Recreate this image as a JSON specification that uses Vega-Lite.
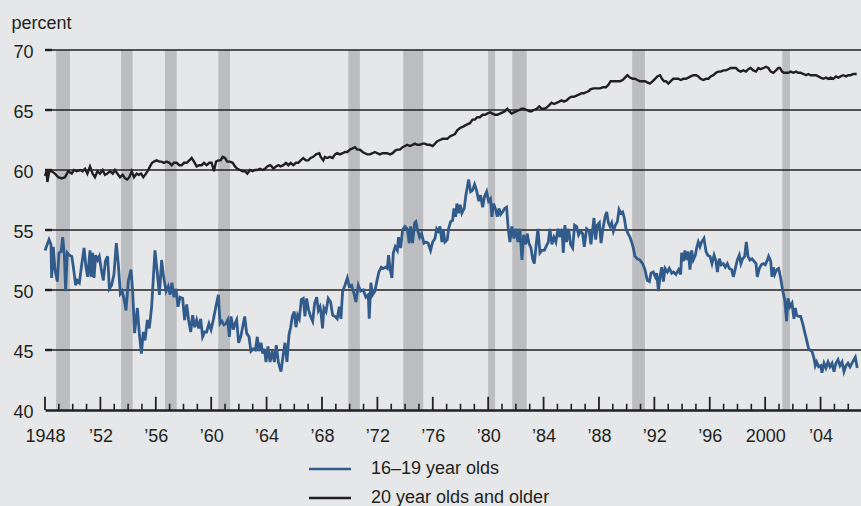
{
  "$schema": "https://vega.github.io/schema/vega-lite/v6.json",
  "width": 816,
  "height": 360,
  "autosize": {"type": "none"},
  "padding": {"left": 45, "top": 50, "right": 0, "bottom": 96},
  "background": "#e6e7e8",
  "config": {
    "view": {"stroke": null},
    "font": "Liberation Sans",
    "axis": {"labelFont": "Liberation Sans", "labelColor": "#231f20", "titleFont": "Liberation Sans", "titleColor": "#231f20"},
    "legend": {"labelFont": "Liberation Sans", "labelColor": "#231f20"}
  },
  "datasets": {
    "teen": [
      {"x":1948.00,"y":53.3},{"x":1948.29,"y":54.2},{"x":1948.43,"y":53.8},{"x":1948.48,"y":51.0},{"x":1948.60,"y":53.6},{"x":1948.72,"y":51.7},{"x":1948.89,"y":50.7},{"x":1949.01,"y":53.1},{"x":1949.16,"y":53.2},{"x":1949.28,"y":54.4},{"x":1949.40,"y":52.8},{"x":1949.49,"y":49.9},{"x":1949.61,"y":53.1},{"x":1949.76,"y":52.9},{"x":1949.93,"y":52.8},{"x":1950.05,"y":51.9},{"x":1950.21,"y":50.4},{"x":1950.33,"y":50.8},{"x":1950.48,"y":50.6},{"x":1950.65,"y":52.1},{"x":1950.82,"y":53.5},{"x":1950.96,"y":51.9},{"x":1951.08,"y":51.1},{"x":1951.25,"y":53.3},{"x":1951.32,"y":51.1},{"x":1951.44,"y":53.1},{"x":1951.54,"y":51.0},{"x":1951.66,"y":52.9},{"x":1951.80,"y":52.5},{"x":1951.92,"y":52.8},{"x":1952.04,"y":51.9},{"x":1952.21,"y":50.8},{"x":1952.36,"y":52.4},{"x":1952.52,"y":52.8},{"x":1952.65,"y":50.1},{"x":1952.81,"y":50.4},{"x":1952.98,"y":51.3},{"x":1953.15,"y":53.9},{"x":1953.29,"y":52.2},{"x":1953.44,"y":49.7},{"x":1953.56,"y":49.9},{"x":1953.70,"y":49.3},{"x":1953.85,"y":48.3},{"x":1954.02,"y":50.8},{"x":1954.21,"y":51.7},{"x":1954.33,"y":49.9},{"x":1954.47,"y":46.4},{"x":1954.67,"y":48.5},{"x":1954.81,"y":46.4},{"x":1954.96,"y":44.7},{"x":1955.10,"y":46.5},{"x":1955.22,"y":45.8},{"x":1955.39,"y":47.5},{"x":1955.53,"y":46.8},{"x":1955.70,"y":48.6},{"x":1955.94,"y":53.3},{"x":1956.11,"y":51.4},{"x":1956.26,"y":49.6},{"x":1956.42,"y":52.5},{"x":1956.54,"y":51.3},{"x":1956.74,"y":49.9},{"x":1956.90,"y":50.3},{"x":1957.03,"y":49.6},{"x":1957.17,"y":50.6},{"x":1957.31,"y":49.4},{"x":1957.46,"y":50.1},{"x":1957.60,"y":48.6},{"x":1957.75,"y":49.4},{"x":1957.94,"y":49.3},{"x":1958.08,"y":47.5},{"x":1958.23,"y":48.8},{"x":1958.37,"y":47.5},{"x":1958.52,"y":46.5},{"x":1958.66,"y":47.9},{"x":1958.81,"y":46.9},{"x":1958.95,"y":47.5},{"x":1959.10,"y":46.8},{"x":1959.24,"y":47.6},{"x":1959.38,"y":46.1},{"x":1959.53,"y":46.5},{"x":1959.67,"y":46.5},{"x":1959.84,"y":47.2},{"x":1959.99,"y":46.7},{"x":1960.15,"y":47.5},{"x":1960.32,"y":48.5},{"x":1960.52,"y":49.6},{"x":1960.64,"y":47.2},{"x":1960.78,"y":47.4},{"x":1960.92,"y":47.1},{"x":1961.07,"y":47.2},{"x":1961.19,"y":47.5},{"x":1961.31,"y":46.1},{"x":1961.43,"y":47.8},{"x":1961.60,"y":46.7},{"x":1961.72,"y":47.2},{"x":1961.84,"y":47.5},{"x":1961.98,"y":45.6},{"x":1962.13,"y":46.1},{"x":1962.27,"y":46.9},{"x":1962.42,"y":47.8},{"x":1962.56,"y":46.4},{"x":1962.73,"y":46.1},{"x":1962.87,"y":44.9},{"x":1963.04,"y":45.1},{"x":1963.19,"y":45.0},{"x":1963.33,"y":46.1},{"x":1963.45,"y":44.9},{"x":1963.60,"y":45.6},{"x":1963.72,"y":44.7},{"x":1963.84,"y":45.1},{"x":1963.96,"y":44.0},{"x":1964.10,"y":45.3},{"x":1964.25,"y":44.0},{"x":1964.41,"y":44.9},{"x":1964.56,"y":44.0},{"x":1964.70,"y":45.4},{"x":1964.85,"y":44.0},{"x":1965.04,"y":43.2},{"x":1965.21,"y":44.7},{"x":1965.33,"y":45.6},{"x":1965.47,"y":44.0},{"x":1965.62,"y":46.3},{"x":1965.74,"y":46.9},{"x":1965.86,"y":47.8},{"x":1966.00,"y":48.2},{"x":1966.12,"y":46.9},{"x":1966.24,"y":47.9},{"x":1966.36,"y":47.6},{"x":1966.51,"y":49.2},{"x":1966.65,"y":49.3},{"x":1966.77,"y":47.8},{"x":1966.89,"y":49.3},{"x":1967.04,"y":48.3},{"x":1967.18,"y":47.8},{"x":1967.33,"y":47.4},{"x":1967.47,"y":48.9},{"x":1967.62,"y":49.4},{"x":1967.74,"y":48.3},{"x":1967.86,"y":48.6},
      {"x":1967.92,"y":48.2},{"x":1968.04,"y":46.8},{"x":1968.14,"y":48.5},{"x":1968.29,"y":48.2},{"x":1968.45,"y":49.3},{"x":1968.62,"y":49.0},{"x":1968.77,"y":47.9},{"x":1968.94,"y":47.8},{"x":1969.10,"y":47.6},{"x":1969.25,"y":48.6},{"x":1969.37,"y":47.6},{"x":1969.49,"y":49.9},{"x":1969.66,"y":50.4},{"x":1969.83,"y":51.0},{"x":1969.97,"y":50.3},{"x":1970.14,"y":50.4},{"x":1970.31,"y":49.7},{"x":1970.45,"y":49.0},{"x":1970.62,"y":50.4},{"x":1970.79,"y":49.9},{"x":1970.98,"y":50.0},{"x":1971.17,"y":49.4},{"x":1971.34,"y":49.6},{"x":1971.41,"y":47.6},{"x":1971.53,"y":50.6},{"x":1971.65,"y":49.6},{"x":1971.82,"y":49.9},{"x":1971.94,"y":50.6},{"x":1972.11,"y":51.5},{"x":1972.28,"y":51.9},{"x":1972.42,"y":51.8},{"x":1972.59,"y":51.9},{"x":1972.71,"y":51.8},{"x":1972.81,"y":52.9},{"x":1972.91,"y":51.8},{"x":1973.05,"y":51.0},{"x":1973.15,"y":53.1},{"x":1973.29,"y":53.6},{"x":1973.44,"y":53.3},{"x":1973.53,"y":54.4},{"x":1973.68,"y":53.5},{"x":1973.82,"y":55.0},{"x":1973.99,"y":55.3},{"x":1974.16,"y":55.1},{"x":1974.30,"y":53.9},{"x":1974.40,"y":55.3},{"x":1974.54,"y":53.9},{"x":1974.69,"y":55.6},{"x":1974.78,"y":55.7},{"x":1974.90,"y":55.0},{"x":1975.05,"y":54.4},{"x":1975.19,"y":54.7},{"x":1975.36,"y":53.9},{"x":1975.51,"y":54.0},{"x":1975.67,"y":53.9},{"x":1975.84,"y":53.3},{"x":1975.99,"y":54.0},{"x":1976.16,"y":54.3},{"x":1976.28,"y":55.1},{"x":1976.40,"y":54.9},{"x":1976.52,"y":55.3},{"x":1976.66,"y":54.0},{"x":1976.76,"y":55.0},{"x":1976.88,"y":54.0},{"x":1977.05,"y":54.2},{"x":1977.14,"y":55.1},{"x":1977.29,"y":55.7},{"x":1977.43,"y":55.8},{"x":1977.53,"y":56.8},{"x":1977.65,"y":56.1},{"x":1977.74,"y":57.2},{"x":1977.86,"y":56.4},{"x":1977.98,"y":57.1},{"x":1978.10,"y":56.4},{"x":1978.27,"y":56.8},{"x":1978.39,"y":57.9},{"x":1978.59,"y":59.2},{"x":1978.73,"y":58.2},{"x":1978.87,"y":58.3},{"x":1979.02,"y":58.8},{"x":1979.16,"y":58.3},{"x":1979.33,"y":57.4},{"x":1979.45,"y":57.9},{"x":1979.60,"y":56.9},{"x":1979.74,"y":57.8},{"x":1979.89,"y":58.2},{"x":1980.03,"y":57.4},{"x":1980.17,"y":57.6},{"x":1980.27,"y":56.1},{"x":1980.39,"y":57.2},{"x":1980.54,"y":56.7},{"x":1980.66,"y":56.1},{"x":1980.78,"y":56.8},{"x":1980.90,"y":56.3},{"x":1981.04,"y":56.5},{"x":1981.19,"y":56.8},{"x":1981.33,"y":56.9},{"x":1981.45,"y":55.1},{"x":1981.57,"y":54.0},{"x":1981.71,"y":55.3},{"x":1981.86,"y":54.3},{"x":1982.00,"y":55.1},{"x":1982.15,"y":54.0},{"x":1982.29,"y":55.1},{"x":1982.44,"y":52.5},{"x":1982.56,"y":54.6},{"x":1982.70,"y":53.8},{"x":1982.82,"y":54.7},{"x":1982.94,"y":53.9},{"x":1983.09,"y":53.5},{"x":1983.21,"y":52.6},{"x":1983.33,"y":52.2},{"x":1983.47,"y":53.8},{"x":1983.59,"y":55.1},{"x":1983.74,"y":53.1},{"x":1983.88,"y":53.3},{"x":1984.05,"y":53.3},{"x":1984.17,"y":53.6},{"x":1984.34,"y":54.0},{"x":1984.46,"y":55.1},{"x":1984.60,"y":53.8},{"x":1984.75,"y":54.4},{"x":1984.89,"y":54.0},{"x":1985.04,"y":55.1},{"x":1985.18,"y":54.4},{"x":1985.33,"y":55.1},{"x":1985.42,"y":53.1},{"x":1985.54,"y":55.4},{"x":1985.66,"y":54.0},{"x":1985.81,"y":55.1},{"x":1985.95,"y":53.8},{"x":1986.10,"y":53.5},{"x":1986.24,"y":55.4},{"x":1986.38,"y":55.3},{"x":1986.53,"y":54.6},{"x":1986.67,"y":54.9},{"x":1986.82,"y":54.7},{"x":1986.94,"y":53.6},{"x":1987.11,"y":55.1},{"x":1987.30,"y":54.9},
      {"x":1987.42,"y":53.8},{"x":1987.54,"y":55.0},{"x":1987.64,"y":56.0},{"x":1987.76,"y":54.2},{"x":1987.88,"y":55.4},{"x":1988.03,"y":55.6},{"x":1988.15,"y":53.9},{"x":1988.27,"y":55.0},{"x":1988.44,"y":56.1},{"x":1988.56,"y":56.5},{"x":1988.68,"y":55.6},{"x":1988.80,"y":55.3},{"x":1988.92,"y":55.6},{"x":1989.04,"y":54.9},{"x":1989.18,"y":55.4},{"x":1989.33,"y":55.7},{"x":1989.45,"y":56.7},{"x":1989.57,"y":56.4},{"x":1989.71,"y":56.5},{"x":1989.83,"y":56.0},{"x":1989.95,"y":55.1},{"x":1990.10,"y":54.7},{"x":1990.24,"y":54.4},{"x":1990.36,"y":54.0},{"x":1990.48,"y":53.5},{"x":1990.60,"y":52.8},{"x":1990.77,"y":52.6},{"x":1990.96,"y":52.5},{"x":1991.15,"y":52.2},{"x":1991.32,"y":51.7},{"x":1991.49,"y":50.8},{"x":1991.64,"y":50.7},{"x":1991.76,"y":51.4},{"x":1991.92,"y":51.5},{"x":1992.07,"y":51.1},{"x":1992.17,"y":51.4},{"x":1992.29,"y":49.9},{"x":1992.41,"y":51.1},{"x":1992.53,"y":51.9},{"x":1992.65,"y":50.7},{"x":1992.77,"y":51.8},{"x":1992.94,"y":51.5},{"x":1993.08,"y":51.8},{"x":1993.25,"y":51.4},{"x":1993.37,"y":51.5},{"x":1993.56,"y":51.3},{"x":1993.75,"y":51.7},{"x":1993.90,"y":51.3},{"x":1993.97,"y":53.1},{"x":1994.09,"y":52.4},{"x":1994.21,"y":53.3},{"x":1994.33,"y":52.5},{"x":1994.45,"y":53.2},{"x":1994.57,"y":51.7},{"x":1994.69,"y":53.3},{"x":1994.81,"y":52.5},{"x":1994.96,"y":52.9},{"x":1995.05,"y":53.5},{"x":1995.17,"y":54.0},{"x":1995.29,"y":53.6},{"x":1995.41,"y":54.0},{"x":1995.58,"y":54.3},{"x":1995.73,"y":53.2},{"x":1995.85,"y":52.9},{"x":1996.02,"y":52.8},{"x":1996.16,"y":52.2},{"x":1996.31,"y":52.9},{"x":1996.45,"y":52.4},{"x":1996.55,"y":51.5},{"x":1996.69,"y":52.6},{"x":1996.83,"y":52.1},{"x":1996.98,"y":52.2},{"x":1997.12,"y":51.9},{"x":1997.27,"y":52.2},{"x":1997.41,"y":51.8},{"x":1997.58,"y":51.7},{"x":1997.70,"y":51.1},{"x":1997.85,"y":51.8},{"x":1997.99,"y":52.5},{"x":1998.13,"y":52.9},{"x":1998.25,"y":52.2},{"x":1998.37,"y":52.6},{"x":1998.52,"y":52.8},{"x":1998.64,"y":54.0},{"x":1998.76,"y":52.8},{"x":1998.90,"y":52.5},{"x":1999.05,"y":52.6},{"x":1999.19,"y":52.4},{"x":1999.34,"y":52.2},{"x":1999.43,"y":51.1},{"x":1999.58,"y":51.8},{"x":1999.72,"y":52.1},{"x":1999.87,"y":52.2},{"x":2000.01,"y":52.1},{"x":2000.16,"y":52.5},{"x":2000.25,"y":52.8},{"x":2000.40,"y":52.4},{"x":2000.49,"y":51.1},{"x":2000.59,"y":51.9},{"x":2000.69,"y":51.3},{"x":2000.83,"y":51.7},{"x":2000.97,"y":51.8},{"x":2001.12,"y":51.0},{"x":2001.26,"y":50.0},{"x":2001.41,"y":49.2},{"x":2001.55,"y":47.4},{"x":2001.65,"y":49.3},{"x":2001.79,"y":48.6},{"x":2001.94,"y":48.9},{"x":2002.08,"y":47.6},{"x":2002.18,"y":48.5},{"x":2002.27,"y":47.9},{"x":2002.42,"y":47.8},{"x":2002.56,"y":47.8},{"x":2002.71,"y":47.2},{"x":2002.85,"y":46.5},{"x":2003.00,"y":45.8},{"x":2003.14,"y":45.1},{"x":2003.24,"y":45.0},{"x":2003.38,"y":44.9},{"x":2003.53,"y":44.3},{"x":2003.62,"y":43.7},{"x":2003.72,"y":44.0},{"x":2003.86,"y":43.6},{"x":2004.01,"y":43.7},{"x":2004.10,"y":43.1},{"x":2004.25,"y":43.9},{"x":2004.39,"y":43.5},{"x":2004.54,"y":44.0},{"x":2004.68,"y":43.6},{"x":2004.83,"y":43.9},{"x":2004.97,"y":43.2},{"x":2005.11,"y":43.9},{"x":2005.26,"y":44.2},{"x":2005.40,"y":43.7},{"x":2005.55,"y":44.0},{"x":2005.69,"y":43.2},{"x":2005.84,"y":43.7},{"x":2005.98,"y":43.9},{"x":2006.13,"y":43.6},{"x":2006.27,"y":43.9},{"x":2006.41,"y":44.2},{"x":2006.51,"y":44.4},{"x":2006.65,"y":43.5}
    ],
    "adult": [
      {"x":1948.00,"y":59.5},{"x":1948.12,"y":59.9},{"x":1948.17,"y":59.0},{"x":1948.31,"y":59.9},{"x":1948.48,"y":59.9},{"x":1948.72,"y":59.7},{"x":1948.96,"y":59.4},{"x":1949.20,"y":59.3},{"x":1949.44,"y":59.4},{"x":1949.68,"y":59.9},{"x":1949.93,"y":59.7},{"x":1950.09,"y":60.0},{"x":1950.29,"y":59.9},{"x":1950.53,"y":60.0},{"x":1950.72,"y":59.9},{"x":1950.89,"y":60.1},{"x":1951.06,"y":59.7},{"x":1951.25,"y":60.3},{"x":1951.44,"y":59.7},{"x":1951.61,"y":59.4},{"x":1951.78,"y":59.9},{"x":1951.97,"y":59.7},{"x":1952.16,"y":60.0},{"x":1952.33,"y":59.6},{"x":1952.50,"y":59.7},{"x":1952.69,"y":59.9},{"x":1952.89,"y":59.7},{"x":1953.05,"y":60.0},{"x":1953.22,"y":59.7},{"x":1953.42,"y":59.4},{"x":1953.61,"y":59.6},{"x":1953.78,"y":59.3},{"x":1953.94,"y":59.2},{"x":1954.09,"y":59.4},{"x":1954.26,"y":59.9},{"x":1954.43,"y":59.4},{"x":1954.62,"y":59.7},{"x":1954.76,"y":59.6},{"x":1954.93,"y":59.7},{"x":1955.10,"y":59.4},{"x":1955.29,"y":59.7},{"x":1955.46,"y":60.0},{"x":1955.58,"y":60.3},{"x":1955.73,"y":60.6},{"x":1955.87,"y":60.7},{"x":1956.06,"y":60.8},{"x":1956.26,"y":60.7},{"x":1956.42,"y":60.7},{"x":1956.59,"y":60.6},{"x":1956.78,"y":60.7},{"x":1956.98,"y":60.6},{"x":1957.15,"y":60.4},{"x":1957.31,"y":60.6},{"x":1957.51,"y":60.6},{"x":1957.70,"y":60.4},{"x":1957.87,"y":60.4},{"x":1958.04,"y":60.6},{"x":1958.23,"y":60.6},{"x":1958.42,"y":60.8},{"x":1958.59,"y":61.0},{"x":1958.76,"y":60.7},{"x":1958.95,"y":60.3},{"x":1959.14,"y":60.4},{"x":1959.31,"y":60.4},{"x":1959.48,"y":60.6},{"x":1959.67,"y":60.4},{"x":1959.87,"y":60.6},{"x":1960.03,"y":60.6},{"x":1960.20,"y":59.9},{"x":1960.35,"y":60.7},{"x":1960.52,"y":60.8},{"x":1960.68,"y":60.8},{"x":1960.83,"y":61.1},{"x":1961.00,"y":61.0},{"x":1961.16,"y":60.7},{"x":1961.36,"y":60.7},{"x":1961.55,"y":60.6},{"x":1961.72,"y":60.3},{"x":1961.89,"y":60.1},{"x":1962.08,"y":60.0},{"x":1962.27,"y":59.9},{"x":1962.44,"y":59.9},{"x":1962.61,"y":59.7},{"x":1962.80,"y":60.0},{"x":1962.99,"y":59.9},{"x":1963.16,"y":60.0},{"x":1963.33,"y":60.0},{"x":1963.52,"y":60.1},{"x":1963.72,"y":60.0},{"x":1963.88,"y":60.1},{"x":1964.05,"y":60.3},{"x":1964.25,"y":60.4},{"x":1964.37,"y":60.3},{"x":1964.49,"y":60.1},{"x":1964.68,"y":60.3},{"x":1964.85,"y":60.4},{"x":1965.02,"y":60.3},{"x":1965.21,"y":60.4},{"x":1965.40,"y":60.6},{"x":1965.57,"y":60.4},{"x":1965.74,"y":60.6},{"x":1965.93,"y":60.4},{"x":1966.12,"y":60.6},{"x":1966.29,"y":60.6},{"x":1966.46,"y":60.8},{"x":1966.65,"y":61.0},{"x":1966.84,"y":60.8},{"x":1967.01,"y":60.8},{"x":1967.18,"y":61.0},{"x":1967.37,"y":61.1},{"x":1967.57,"y":61.3},{"x":1967.81,"y":61.4},
      {"x":1967.90,"y":61.1},{"x":1968.09,"y":60.8},{"x":1968.21,"y":61.1},{"x":1968.38,"y":61.0},{"x":1968.57,"y":61.1},{"x":1968.77,"y":61.0},{"x":1968.94,"y":61.3},{"x":1969.10,"y":61.4},{"x":1969.30,"y":61.3},{"x":1969.49,"y":61.4},{"x":1969.66,"y":61.5},{"x":1969.83,"y":61.5},{"x":1970.02,"y":61.7},{"x":1970.21,"y":61.8},{"x":1970.38,"y":61.9},{"x":1970.55,"y":61.7},{"x":1970.74,"y":61.7},{"x":1970.93,"y":61.5},{"x":1971.10,"y":61.4},{"x":1971.27,"y":61.3},{"x":1971.46,"y":61.3},{"x":1971.65,"y":61.4},{"x":1971.82,"y":61.5},{"x":1971.99,"y":61.4},{"x":1972.18,"y":61.3},{"x":1972.38,"y":61.4},{"x":1972.55,"y":61.4},{"x":1972.71,"y":61.4},{"x":1972.91,"y":61.3},{"x":1973.10,"y":61.4},{"x":1973.27,"y":61.6},{"x":1973.44,"y":61.7},{"x":1973.63,"y":61.7},{"x":1973.82,"y":61.9},{"x":1973.99,"y":62.0},{"x":1974.16,"y":62.1},{"x":1974.35,"y":62.0},{"x":1974.54,"y":62.1},{"x":1974.71,"y":62.2},{"x":1974.88,"y":62.1},{"x":1975.07,"y":62.1},{"x":1975.26,"y":62.2},{"x":1975.43,"y":62.2},{"x":1975.60,"y":62.1},{"x":1975.79,"y":62.1},{"x":1975.99,"y":62.0},{"x":1976.16,"y":62.2},{"x":1976.32,"y":62.4},{"x":1976.52,"y":62.5},{"x":1976.71,"y":62.6},{"x":1976.88,"y":62.6},{"x":1977.05,"y":62.6},{"x":1977.24,"y":62.8},{"x":1977.43,"y":62.9},{"x":1977.60,"y":63.0},{"x":1977.77,"y":63.3},{"x":1977.96,"y":63.5},{"x":1978.15,"y":63.6},{"x":1978.32,"y":63.7},{"x":1978.49,"y":63.8},{"x":1978.68,"y":63.9},{"x":1978.87,"y":64.2},{"x":1979.04,"y":64.2},{"x":1979.21,"y":64.4},{"x":1979.40,"y":64.4},{"x":1979.60,"y":64.6},{"x":1979.77,"y":64.6},{"x":1979.93,"y":64.7},{"x":1980.13,"y":64.8},{"x":1980.32,"y":64.7},{"x":1980.49,"y":64.6},{"x":1980.66,"y":64.6},{"x":1980.85,"y":64.7},{"x":1981.04,"y":64.8},{"x":1981.21,"y":64.9},{"x":1981.38,"y":65.1},{"x":1981.52,"y":64.9},{"x":1981.69,"y":64.7},{"x":1981.86,"y":64.8},{"x":1982.05,"y":64.9},{"x":1982.24,"y":65.0},{"x":1982.41,"y":65.1},{"x":1982.58,"y":65.1},{"x":1982.77,"y":65.0},{"x":1982.97,"y":64.9},{"x":1983.13,"y":64.9},{"x":1983.30,"y":65.0},{"x":1983.50,"y":65.1},{"x":1983.69,"y":65.3},{"x":1983.86,"y":65.1},{"x":1984.03,"y":65.1},{"x":1984.22,"y":65.2},{"x":1984.41,"y":65.4},{"x":1984.58,"y":65.6},{"x":1984.75,"y":65.5},{"x":1984.94,"y":65.6},{"x":1985.13,"y":65.7},{"x":1985.30,"y":65.8},{"x":1985.47,"y":65.7},{"x":1985.66,"y":65.8},{"x":1985.85,"y":66.0},{"x":1986.02,"y":66.1},{"x":1986.19,"y":66.1},{"x":1986.38,"y":66.2},{"x":1986.58,"y":66.3},{"x":1986.75,"y":66.4},{"x":1986.91,"y":66.4},{"x":1987.11,"y":66.5},{"x":1987.30,"y":66.6},
      {"x":1987.35,"y":66.7},{"x":1987.59,"y":66.8},{"x":1987.83,"y":66.8},{"x":1988.07,"y":66.8},{"x":1988.31,"y":66.9},{"x":1988.51,"y":66.9},{"x":1988.68,"y":67.1},{"x":1988.84,"y":67.4},{"x":1989.04,"y":67.4},{"x":1989.28,"y":67.4},{"x":1989.52,"y":67.4},{"x":1989.71,"y":67.5},{"x":1989.88,"y":67.7},{"x":1990.05,"y":67.9},{"x":1990.24,"y":67.7},{"x":1990.43,"y":67.6},{"x":1990.60,"y":67.6},{"x":1990.77,"y":67.5},{"x":1990.96,"y":67.4},{"x":1991.15,"y":67.4},{"x":1991.32,"y":67.4},{"x":1991.49,"y":67.3},{"x":1991.68,"y":67.2},{"x":1991.88,"y":67.4},{"x":1992.05,"y":67.6},{"x":1992.21,"y":67.8},{"x":1992.41,"y":67.9},{"x":1992.55,"y":67.6},{"x":1992.70,"y":67.4},{"x":1992.84,"y":67.4},{"x":1993.01,"y":67.2},{"x":1993.18,"y":67.4},{"x":1993.37,"y":67.6},{"x":1993.56,"y":67.6},{"x":1993.73,"y":67.6},{"x":1993.90,"y":67.5},{"x":1994.09,"y":67.6},{"x":1994.28,"y":67.6},{"x":1994.45,"y":67.7},{"x":1994.62,"y":67.8},{"x":1994.81,"y":67.9},{"x":1995.01,"y":67.9},{"x":1995.17,"y":67.8},{"x":1995.34,"y":67.6},{"x":1995.53,"y":67.5},{"x":1995.73,"y":67.6},{"x":1995.90,"y":67.6},{"x":1996.06,"y":67.8},{"x":1996.26,"y":67.9},{"x":1996.45,"y":68.1},{"x":1996.62,"y":68.2},{"x":1996.79,"y":68.2},{"x":1996.98,"y":68.3},{"x":1997.17,"y":68.3},{"x":1997.34,"y":68.4},{"x":1997.51,"y":68.5},{"x":1997.70,"y":68.5},{"x":1997.89,"y":68.5},{"x":1998.06,"y":68.3},{"x":1998.23,"y":68.2},{"x":1998.42,"y":68.3},{"x":1998.62,"y":68.2},{"x":1998.78,"y":68.4},{"x":1998.95,"y":68.5},{"x":1999.14,"y":68.3},{"x":1999.34,"y":68.2},{"x":1999.51,"y":68.5},{"x":1999.67,"y":68.4},{"x":1999.87,"y":68.5},{"x":2000.06,"y":68.6},{"x":2000.23,"y":68.5},{"x":2000.40,"y":68.2},{"x":2000.59,"y":68.1},{"x":2000.78,"y":68.3},{"x":2000.95,"y":68.5},{"x":2001.07,"y":68.5},{"x":2001.22,"y":68.2},{"x":2001.36,"y":68.1},{"x":2001.50,"y":68.1},{"x":2001.67,"y":68.1},{"x":2001.84,"y":68.2},{"x":2002.03,"y":68.1},{"x":2002.23,"y":68.2},{"x":2002.39,"y":68.1},{"x":2002.56,"y":68.1},{"x":2002.76,"y":68.0},{"x":2002.95,"y":67.9},{"x":2003.12,"y":68.0},{"x":2003.29,"y":67.9},{"x":2003.48,"y":67.9},{"x":2003.67,"y":67.9},{"x":2003.84,"y":67.8},{"x":2004.01,"y":67.7},{"x":2004.20,"y":67.6},{"x":2004.39,"y":67.7},{"x":2004.56,"y":67.6},{"x":2004.73,"y":67.7},{"x":2004.92,"y":67.6},{"x":2005.11,"y":67.8},{"x":2005.28,"y":67.7},{"x":2005.45,"y":67.8},{"x":2005.64,"y":67.9},{"x":2005.84,"y":67.8},{"x":2006.00,"y":67.9},{"x":2006.17,"y":67.9},{"x":2006.37,"y":68.0},{"x":2006.61,"y":68.0}
    ]
  },
  "layer": [
    {
      "data": {"values": [
        {"a":1948.8,"b":1949.8},{"a":1953.49,"b":1954.33},{"a":1956.66,"b":1957.51},{"a":1960.51,"b":1961.36},{"a":1969.9,"b":1970.74},{"a":1973.87,"b":1975.31},{"a":1980.0,"b":1980.5},{"a":1981.74,"b":1982.78},{"a":1990.4,"b":1991.32},{"a":2001.24,"b":2001.79}
      ]},
      "mark": {"type": "rect", "color": "#bcbdc0"},
      "encoding": {
        "x": {
          "field": "a", "type": "quantitative",
          "scale": {"domain": [1948, 2006.92], "nice": false, "zero": false},
          "axis": {
            "title": null,
            "values": [1948,1952,1956,1960,1964,1968,1972,1976,1980,1984,1988,1992,1996,2000,2004],
            "format": "d",
            "labelExpr": "(datum.value === 1948 || datum.value === 2000) ? datum.label : '’' + substring(datum.label, 2)",
            "labelFontSize": 18,
            "labelPadding": 17,
            "labelOverlap": false,
            "labelFlush": false,
            "grid": false,
            "ticks": false,
            "domainColor": "#231f20",
            "domainWidth": 2.5,
            "zindex": 1
          }
        },
        "x2": {"field": "b"}
      }
    },
    {
      "data": {"values": [{"t":1949},{"t":1950},{"t":1951},{"t":1953},{"t":1954},{"t":1955},{"t":1957},{"t":1958},{"t":1959},{"t":1961},{"t":1962},{"t":1963},{"t":1965},{"t":1966},{"t":1967},{"t":1969},{"t":1970},{"t":1971},{"t":1973},{"t":1974},{"t":1975},{"t":1977},{"t":1978},{"t":1979},{"t":1981},{"t":1982},{"t":1983},{"t":1985},{"t":1986},{"t":1987},{"t":1989},{"t":1990},{"t":1991},{"t":1993},{"t":1994},{"t":1995},{"t":1997},{"t":1998},{"t":1999},{"t":2001},{"t":2002},{"t":2003},{"t":2005},{"t":2006}]},
      "mark": {"type": "rule", "color": "#231f20", "strokeWidth": 1.6},
      "encoding": {
        "x": {"field": "t", "type": "quantitative", "title": null},
        "y": {"datum": 40},
        "y2": {"datum": 40.52}
      }
    },
    {
      "data": {"values": [{"t":1948},{"t":1952},{"t":1956},{"t":1960},{"t":1964},{"t":1968},{"t":1972},{"t":1976},{"t":1980},{"t":1984},{"t":1988},{"t":1992},{"t":1996},{"t":2000},{"t":2004}]},
      "mark": {"type": "rule", "color": "#231f20", "strokeWidth": 1.8},
      "encoding": {
        "x": {"field": "t", "type": "quantitative", "title": null},
        "y": {"datum": 40},
        "y2": {"datum": 41.1}
      }
    },
    {
      "data": {"values": [{"v":45},{"v":50},{"v":55},{"v":60},{"v":65},{"v":70}]},
      "mark": {"type": "rule", "color": "#231f20", "strokeWidth": 1.3},
      "encoding": {
        "y": {
          "field": "v", "type": "quantitative",
          "scale": {"domain": [40, 70], "nice": false, "zero": false},
          "axis": {
            "title": "percent",
            "titleAngle": 0,
            "titleAlign": "left",
            "titleBaseline": "alphabetic",
            "titleX": -34,
            "titleY": -21.5,
            "titleFontSize": 18,
            "titleFontWeight": "normal",
            "values": [40,45,50,55,60,65,70],
            "labelFontSize": 18,
            "labelPadding": 12,
            "labelOffset": 2.5,
            "grid": false,
            "domain": false,
            "ticks": false
          }
        }
      }
    },
    {
      "data": {"values": [{"v":45},{"v":50},{"v":55},{"v":60},{"v":65},{"v":70}]},
      "mark": {"type": "rule", "color": "#231f20", "strokeWidth": 2.4},
      "encoding": {
        "y": {"field": "v", "type": "quantitative", "title": "percent"},
        "x": {"datum": 1948},
        "x2": {"datum": 1948.5}
      }
    },
    {
      "data": {"name": "teen"},
      "mark": {"type": "line", "strokeWidth": 2.8},
      "encoding": {
        "x": {"field": "x", "type": "quantitative", "title": null},
        "y": {"field": "y", "type": "quantitative", "title": "percent"},
        "color": {
          "datum": "16–19 year olds",
          "scale": {"domain": ["16–19 year olds", "20 year olds and older"], "range": ["#315b8b", "#231f20"]},
          "legend": {
            "title": null,
            "orient": "none",
            "legendX": 276,
            "legendY": 410,
            "direction": "vertical",
            "symbolType": "M-3,0H3",
            "symbolSize": 196,
            "symbolStrokeWidth": 2.5,
            "labelFontSize": 18,
            "labelOffset": 32,
            "labelLimit": 400,
            "rowPadding": 11,
            "padding": 0
          }
        }
      }
    },
    {
      "data": {"name": "adult"},
      "mark": {"type": "line", "strokeWidth": 2.4},
      "encoding": {
        "x": {"field": "x", "type": "quantitative", "title": null},
        "y": {"field": "y", "type": "quantitative", "title": "percent"},
        "color": {"datum": "20 year olds and older"}
      }
    }
  ]
}
